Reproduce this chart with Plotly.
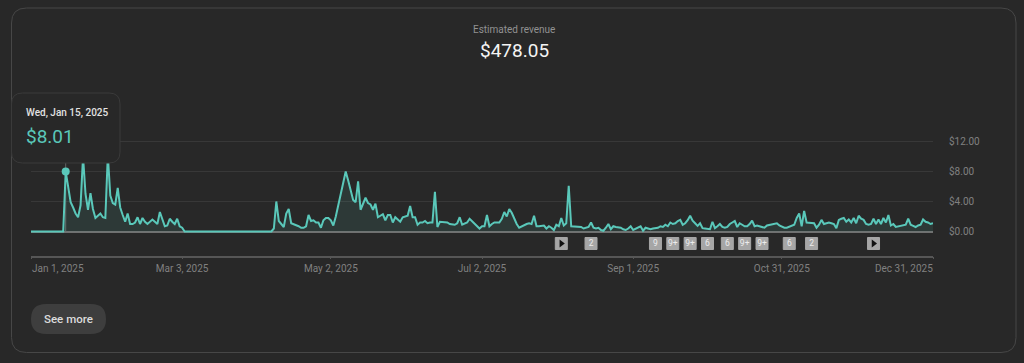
import pandas as pd
import plotly.graph_objects as go

W, H = 1024, 363

start_date = "2025-01-01"
revenue = [
    0, 0, 0, 0, 0, 0, 0,
    0, 0, 0, 0, 0, 0, 0,
    8.01, 5.8, 3.9, 3.2, 2.4, 1.9, 3.5,
    10.0, 5.0, 2.9, 5.1, 3.0, 1.8, 2.1,
    2.4, 1.9, 1.8, 10.2, 4.8, 3.8, 3.6,
    5.8, 3.2, 2.2, 1.3, 2.4, 1.0, 1.0,
    1.2, 1.9, 1.0, 1.8, 1.3, 1.0, 1.3,
    1.6, 1.3, 1.0, 2.6, 1.5, 0.7, 0.8,
    1.7, 1.3, 1.0, 1.7, 0.7, 0.5, 0,
    0, 0, 0, 0, 0, 0, 0,
    0, 0, 0, 0, 0, 0, 0,
    0, 0, 0, 0, 0, 0, 0,
    0, 0, 0, 0, 0, 0, 0,
    0, 0, 0, 0, 0, 0, 0,
    0.4, 4.0, 1.4, 1.0, 0.6, 2.4, 3.0,
    1.1, 1.0, 0.9, 0.7, 0.5, 0.5, 0.7,
    2.2, 1.4, 1.5, 1.2, 1.2, 0.5, 1.5,
    1.8, 1.8, 1.5, 0.8, 2.0, 3.5, 5.0,
    6.5, 8.0, 6.8, 5.5, 4.2, 3.9, 6.7,
    2.9, 3.6, 4.5, 3.8, 3.6, 2.9, 3.7,
    1.9, 2.1, 2.3, 1.5, 2.2, 2.2, 1.2,
    1.9, 1.6, 1.3, 1.9, 2.0, 2.1, 3.4,
    1.9, 1.9, 0.9, 1.2, 1.2, 1.4, 1.1,
    1.2, 1.2, 5.3, 0.6, 1.3, 1.3, 1.2,
    1.2, 1.0, 0.9, 0.9, 1.1, 1.9, 0.9,
    1.1, 1.2, 1.7, 1.4, 1.1, 0.7, 0.4,
    0.7, 0.7, 2.2, 0.7, 1.0, 1.2, 1.2,
    1.2, 1.7, 2.6, 2.0, 3.0, 2.5, 1.7,
    1.0, 0.5, 0.7, 0.9, 1.0, 1.1, 1.0,
    2.1, 0.7, 0.7, 0.8, 0.8, 0.4, 0.7,
    0.5, 0.2, 0.9, 0.7, 1.8, 0.8, 1.1,
    6.1, 0.7, 0.7, 0.6, 0.7, 0.6, 0.4,
    0.5, 0.6, 1.2, 0.5, 0.4, 0.5, 0.2,
    0.1, 0.5, 1.0, 0.3, 0.7, 0.6, 0.6,
    0.5, 0.3, 0.2, 0.4, 0.7, 0.2, 0.4,
    0.6, 0.7, 0.1, 0.5, 0.4, 0.3, 0.4,
    0.45, 0.5, 0.7, 0.6, 0.9, 0.7, 1.2,
    1.0, 1.1, 1.4, 1.55, 0.9, 1.1, 1.5,
    2.1, 1.45, 1.1, 0.75, 1.1, 0.45, 0.4,
    0.3, 0.3, 1.3, 0.45, 0.7, 1.0, 0.6,
    0.5, 0.6, 1.0, 1.2, 1.4, 0.6, 1.1,
    0.9, 0.7, 0.7, 1.0, 1.45, 0.7, 0.8,
    0.7, 0.6, 0.5, 0.8, 0.9, 0.9, 1.0,
    1.1, 0.8, 0.6, 0.5, 0.5, 0.6, 0.7,
    0.9, 1.8, 2.4, 0.7, 2.75, 1.2, 1.2,
    1.1, 1.1, 0.5, 0.9, 1.55, 1.0, 1.1,
    1.2, 1.1, 1.0, 0.45, 1.55, 1.7, 1.8,
    1.3, 1.6, 1.2, 1.8, 1.1, 2.1, 1.7,
    1.55, 1.0, 0.9, 1.0, 1.7, 1.0, 1.6,
    1.0, 1.8, 1.2, 2.2, 0.8, 1.0, 0.6,
    0.7, 0.7, 0.8, 0.9, 1.7, 0.9, 0.75,
    0.6, 0.8, 0.9, 1.6, 1.3, 1.2, 1.0,
    1.1,
]
dates = pd.date_range(start_date, periods=len(revenue), freq="D")

hover_date = "2025-01-15"
hover_value = 8.01

x_tick_dates = ["2025-03-03", "2025-05-02", "2025-07-02", "2025-09-01", "2025-10-31"]
x_tick_labels = ["Mar 3, 2025", "May 2, 2025", "Jul 2, 2025", "Sep 1, 2025", "Oct 31, 2025"]
x_end_dates = ["2025-01-01", "2025-12-31"]
x_end_labels = ["Jan 1, 2025", "Dec 31, 2025"]
y_tick_values = [0, 4, 8, 12]
y_tick_labels = ["$0.00", "$4.00", "$8.00", "$12.00"]

badge_dates = ["2025-08-15", "2025-09-10", "2025-09-17", "2025-09-24", "2025-10-01",
               "2025-10-09", "2025-10-16", "2025-10-23", "2025-11-03", "2025-11-12"]
badge_labels = ["2", "9", "9+", "9+", "6", "6", "9+", "9+", "6", "2"]
play_dates = ["2025-08-03", "2025-12-07"]

title_text = "Estimated revenue"
total_text = "$478.05"
tooltip_date_text = "Wed, Jan 15, 2025"
tooltip_value_text = "$8.01"
button_text = "See more"

TEAL = "#5ac8ba"
TICK_COLOR = "#808080"
FONT = "Roboto"


def px(x):
    return x / W


def py(y):
    return 1 - y / H


def round_rect(x0, y0, x1, y1, r):
    return (f"M {px(x0 + r)} {py(y0)} L {px(x1 - r)} {py(y0)} Q {px(x1)} {py(y0)} {px(x1)} {py(y0 + r)} "
            f"L {px(x1)} {py(y1 - r)} Q {px(x1)} {py(y1)} {px(x1 - r)} {py(y1)} "
            f"L {px(x0 + r)} {py(y1)} Q {px(x0)} {py(y1)} {px(x0)} {py(y1 - r)} "
            f"L {px(x0)} {py(y0 + r)} Q {px(x0)} {py(y0)} {px(x0 + r)} {py(y0)} Z")


def label(x, y, text, size, color, anchor="center", weight=400):
    return dict(x=px(x), y=py(y), xref="paper", yref="paper", text=text, showarrow=False,
                xanchor=anchor, yanchor="middle", borderpad=0,
                font=dict(family=FONT, size=size, color=color, weight=weight))


fig = go.Figure()

fig.add_trace(go.Scatter(x=[hover_date, hover_date], y=[0, 9.2], mode="lines",
                         line=dict(color="#666666", width=1), hoverinfo="skip"))
fig.add_trace(go.Scatter(x=dates, y=revenue, mode="lines", fill="tozeroy",
                         fillcolor="rgba(90,200,186,0.11)",
                         line=dict(color=TEAL, width=2, shape="linear"), hoverinfo="skip"))
fig.add_trace(go.Scatter(x=[hover_date], y=[hover_value], mode="markers",
                         marker=dict(color=TEAL, size=8), hoverinfo="skip", cliponaxis=False))

fig.add_trace(go.Scatter(x=badge_dates, y=[0.5] * len(badge_dates), yaxis="y2", mode="markers+text",
                         text=badge_labels, textposition="middle center",
                         textfont=dict(family=FONT, size=8.5, color="#ececec"),
                         marker=dict(symbol="square", size=12, color="#a6a6a6",
                                     line=dict(color="#a6a6a6", width=1)),
                         hoverinfo="skip", cliponaxis=False))
fig.add_trace(go.Scatter(x=play_dates, y=[0.5] * len(play_dates), yaxis="y2", mode="markers",
                         marker=dict(symbol="square", size=12, color="#a6a6a6",
                                     line=dict(color="#a6a6a6", width=1)),
                         hoverinfo="skip", cliponaxis=False))
fig.add_trace(go.Scatter(x=play_dates, y=[0.5] * len(play_dates), yaxis="y2", mode="markers",
                         marker=dict(symbol="triangle-right", size=7, color="#111111"),
                         hoverinfo="skip", cliponaxis=False))

shapes = [
    dict(type="path", xref="paper", yref="paper", path=round_rect(11.5, 8, 1016, 352.5, 15),
         line=dict(color="#474747", width=1), fillcolor="#282828", layer="below"),
    dict(type="path", xref="paper", yref="paper", path=round_rect(31, 304, 106, 334, 15),
         line=dict(width=0), fillcolor="#3e3e3e", layer="below"),
    dict(type="path", xref="paper", yref="paper", path=round_rect(11.5, 93, 120, 163, 11),
         line=dict(color="#3a3a3a", width=1), fillcolor="#282828", layer="above"),
]

annotations = [
    label(514, 29, title_text, 10, "#929292"),
    label(514, 50, total_text, 19, "#f4f4f4"),
    label(24.5, 113, tooltip_date_text, 10, "#e2e2e2", anchor="left", weight=500),
    label(24.5, 136, tooltip_value_text, 19, TEAL, anchor="left"),
    label(68.5, 319, button_text, 11.5, "#dcdcdc", weight=500),
    label(30.5, 268, x_end_labels[0], 10, TICK_COLOR, anchor="left"),
    label(933.5, 268, x_end_labels[1], 10, TICK_COLOR, anchor="right"),
]

fig.update_layout(
    width=W, height=H, autosize=False, showlegend=False, hovermode=False,
    margin=dict(l=0, r=0, t=0, b=0),
    paper_bgcolor="#282828", plot_bgcolor="rgba(0,0,0,0)",
    font=dict(family=FONT, color=TICK_COLOR, size=10),
    shapes=shapes, annotations=annotations,
    xaxis=dict(
        type="date", domain=[px(31), px(933)], range=[x_end_dates[0], x_end_dates[1]],
        anchor="free", position=py(256.5), automargin=False,
        showgrid=False, zeroline=False, showline=True, linecolor="#565656", linewidth=1.5,
        tickmode="array", tickvals=x_end_dates[:1] + x_tick_dates + x_end_dates[1:],
        ticktext=[""] + x_tick_labels + [""],
        ticks="outside", ticklen=2, tickcolor="#565656", tickwidth=1,
        tickfont=dict(family=FONT, size=10, color=TICK_COLOR), ticklabelstandoff=1,
    ),
    yaxis=dict(
        domain=[py(233.5), py(139.5)], range=[-0.267, 12.267], anchor="x", side="right",
        automargin=False,
        showgrid=True, gridcolor="#383838", gridwidth=1,
        zeroline=True, zerolinecolor="#707070", zerolinewidth=1.5, showline=False,
        tickmode="array", tickvals=y_tick_values, ticktext=y_tick_labels,
        ticks="", tickfont=dict(family=FONT, size=10, color=TICK_COLOR), ticklabelstandoff=15,
    ),
    yaxis2=dict(domain=[py(252), py(235)], range=[0, 1], anchor="x", visible=False, automargin=False),
)

fig.write_html("out.html", config={"displayModeBar": False},
               post_script="document.body.style.margin='0';document.body.style.background='#282828';")
